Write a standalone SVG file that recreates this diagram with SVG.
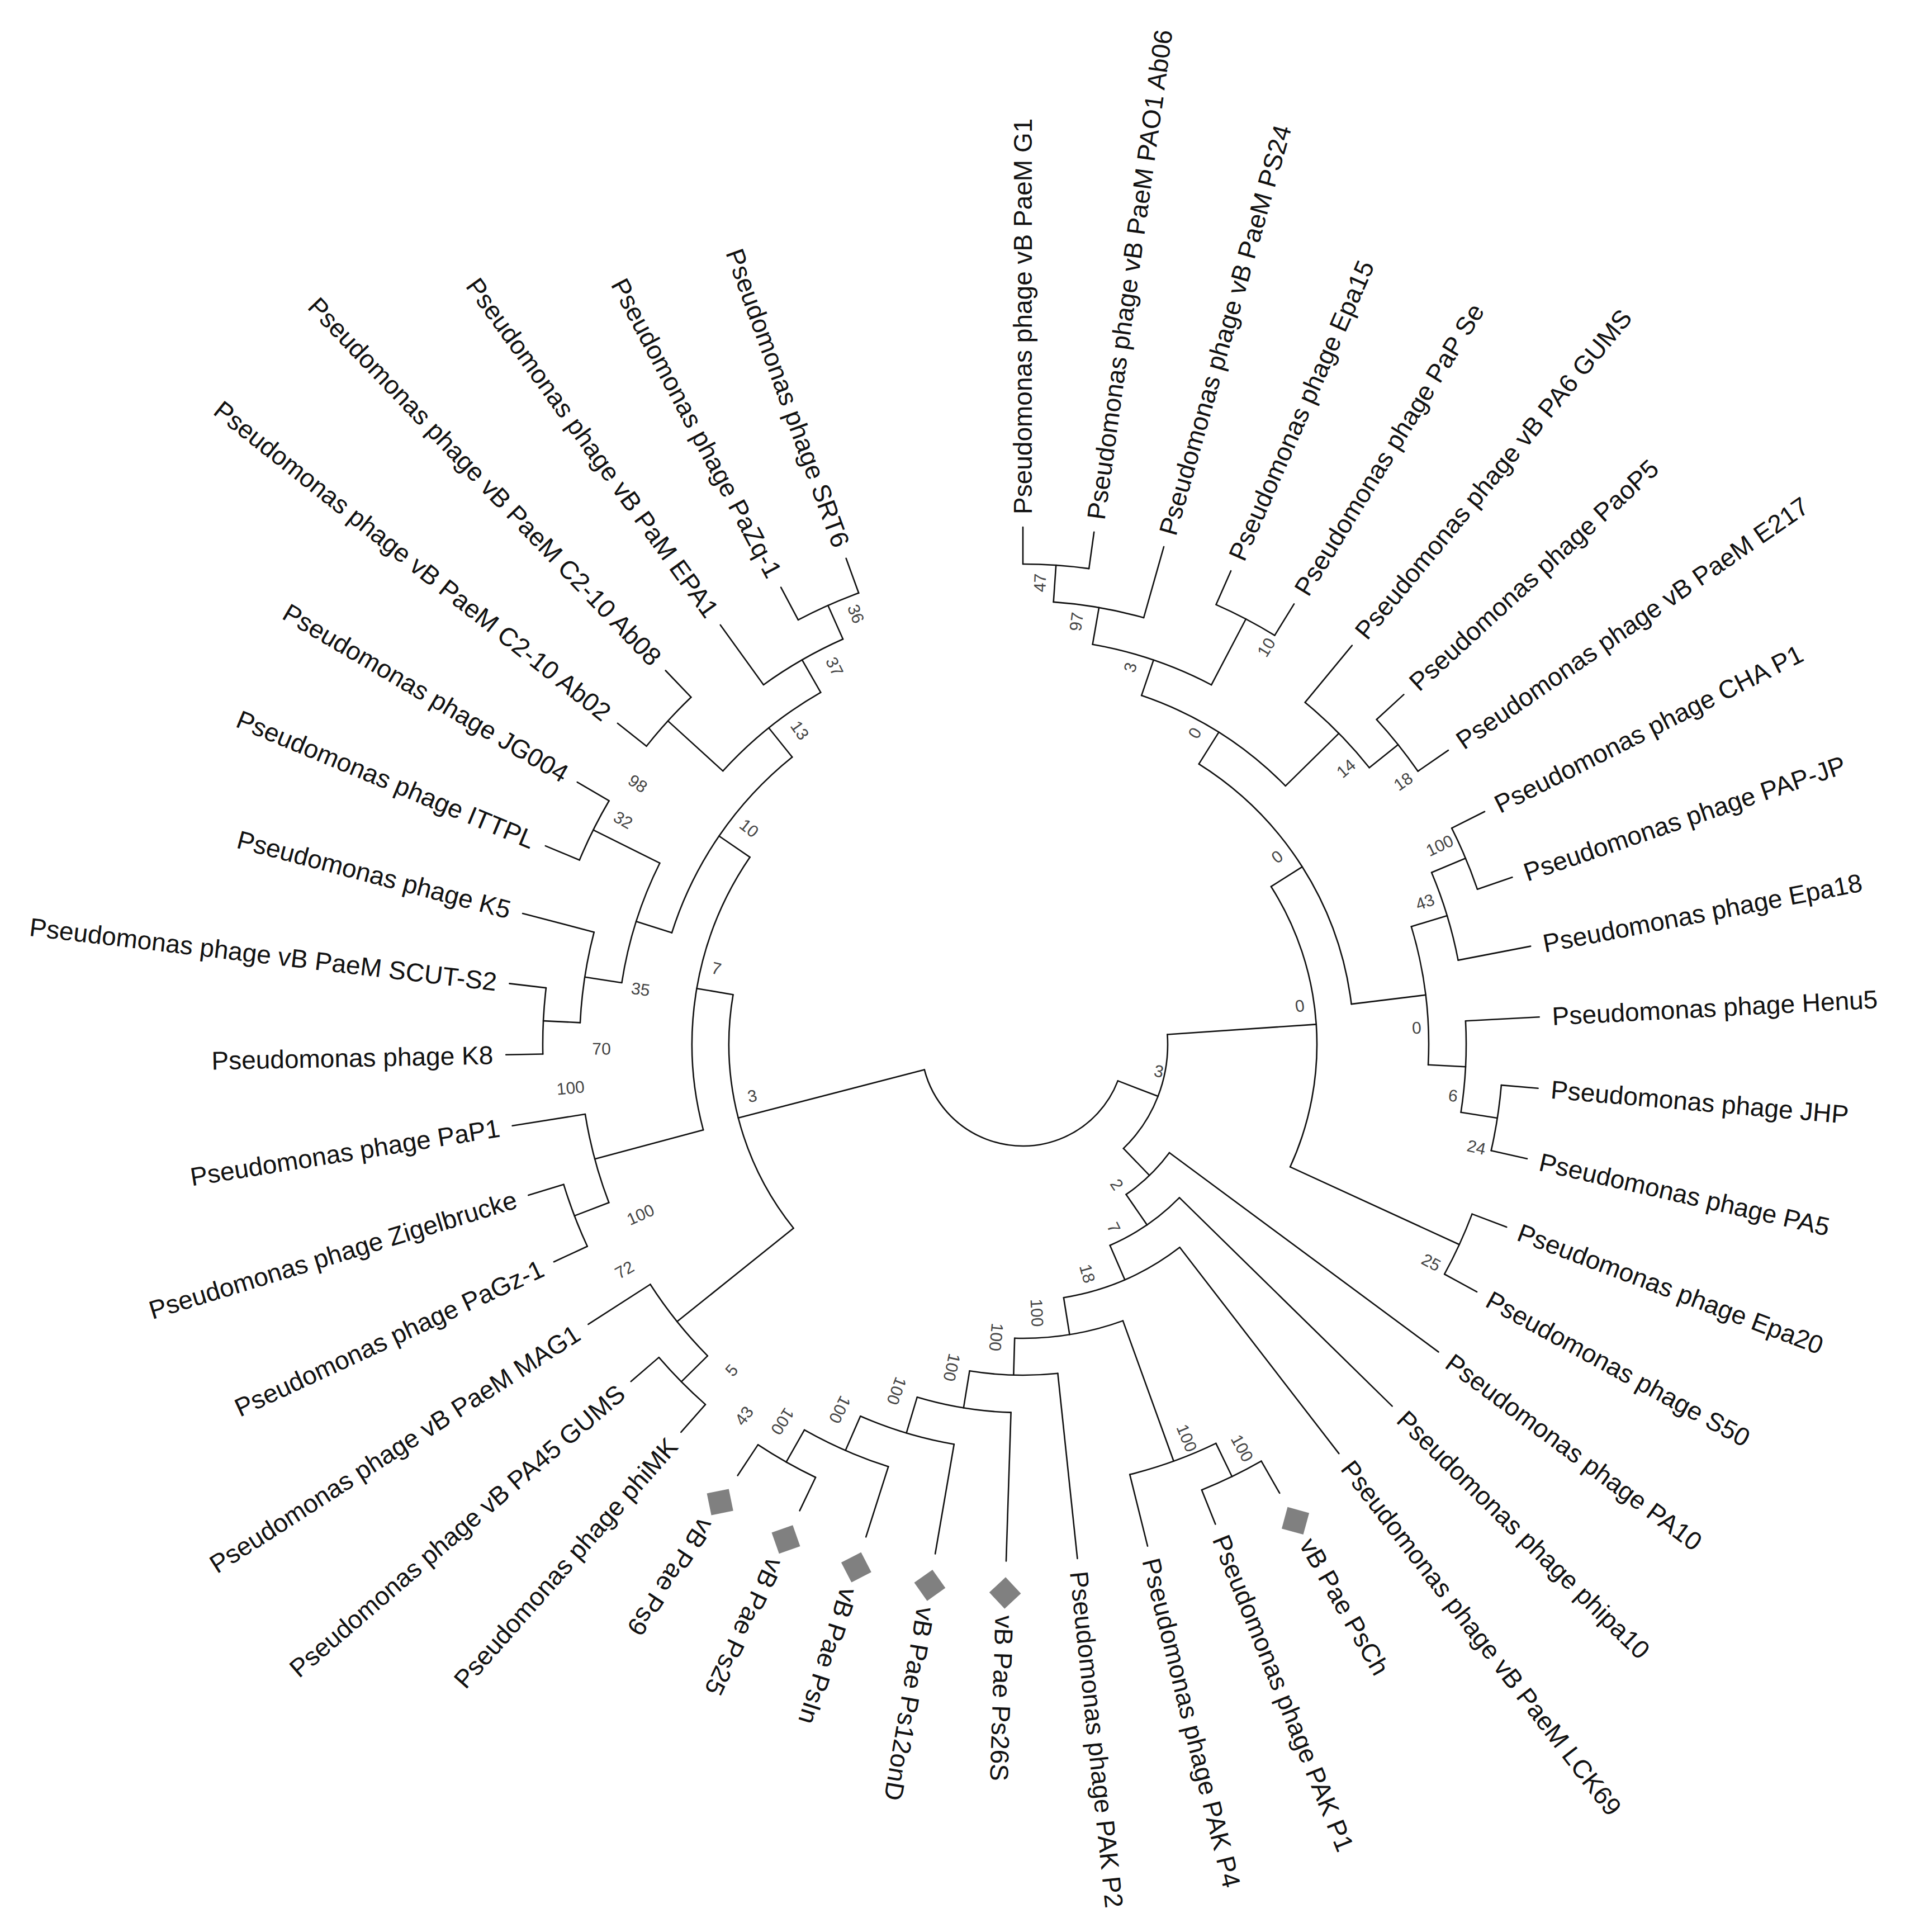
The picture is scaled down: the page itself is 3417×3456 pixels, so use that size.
<svg xmlns="http://www.w3.org/2000/svg" width="3417" height="3456" viewBox="0 0 3417 3456">
<style>
.b path,.b circle{fill:none;stroke:#111;stroke-width:2.6;stroke-linecap:round}
.t{font-family:"Liberation Sans",Arial,sans-serif;font-size:46px;fill:#111;dominant-baseline:central}
.e{text-anchor:end}
.s{font-family:"Liberation Sans",Arial,sans-serif;font-size:30px;fill:#444;dominant-baseline:central;text-anchor:middle}
.d{fill:#808080}
</style>
<defs><rect id="dm" x="-20" y="-20" width="40" height="40" transform="rotate(45)"/></defs>
<rect width="3417" height="3456" fill="#fff"/>
<g transform="translate(1830 1868)">
<g id="connectors" class="b">
<circle r="182" transform="rotate(21.061)" stroke-dasharray="458.8 9999"/>
<circle r="526" transform="rotate(141.279)" stroke-dasharray="444.6 9999"/>
<circle r="592" transform="rotate(165)" stroke-dasharray="510.6 9999"/>
<circle r="659" transform="rotate(197.616)" stroke-dasharray="386.5 9999"/>
<circle r="726" transform="rotate(222.326)" stroke-dasharray="225.4 9999"/>
<circle r="793" transform="rotate(234.186)" stroke-dasharray="164.2 9999"/>
<circle r="859" transform="rotate(242.093)" stroke-dasharray="118.5 9999"/>
<circle r="859" transform="rotate(218.372)" stroke-dasharray="118.5 9999"/>
<circle r="726" transform="rotate(188.721)" stroke-dasharray="225.4 9999"/>
<circle r="859" transform="rotate(202.558)" stroke-dasharray="118.5 9999"/>
<circle r="793" transform="rotate(182.791)" stroke-dasharray="164.2 9999"/>
<circle r="859" transform="rotate(178.837)" stroke-dasharray="118.5 9999"/>
<circle r="793" transform="rotate(159.07)" stroke-dasharray="164.2 9999"/>
<circle r="859" transform="rotate(155.116)" stroke-dasharray="118.5 9999"/>
<circle r="793" transform="rotate(135.349)" stroke-dasharray="164.2 9999"/>
<circle r="859" transform="rotate(131.395)" stroke-dasharray="118.5 9999"/>
<circle r="259" transform="rotate(-3.888)" stroke-dasharray="225.6 9999"/>
<circle r="526" transform="rotate(-32.427)" stroke-dasharray="524 9999"/>
<circle r="592" transform="rotate(-57.878)" stroke-dasharray="525.9 9999"/>
<circle r="659" transform="rotate(-71.221)" stroke-dasharray="306.9 9999"/>
<circle r="726" transform="rotate(-80.116)" stroke-dasharray="225.4 9999"/>
<circle r="793" transform="rotate(-86.047)" stroke-dasharray="164.2 9999"/>
<circle r="859" transform="rotate(-90)" stroke-dasharray="118.5 9999"/>
<circle r="859" transform="rotate(-66.279)" stroke-dasharray="118.5 9999"/>
<circle r="793" transform="rotate(-50.465)" stroke-dasharray="164.2 9999"/>
<circle r="859" transform="rotate(-42.558)" stroke-dasharray="118.5 9999"/>
<circle r="726" transform="rotate(-16.86)" stroke-dasharray="250.5 9999"/>
<circle r="793" transform="rotate(-22.791)" stroke-dasharray="164.2 9999"/>
<circle r="859" transform="rotate(-26.744)" stroke-dasharray="118.5 9999"/>
<circle r="793" transform="rotate(-3.023)" stroke-dasharray="164.2 9999"/>
<circle r="859" transform="rotate(4.884)" stroke-dasharray="118.5 9999"/>
<circle r="859" transform="rotate(20.698)" stroke-dasharray="118.5 9999"/>
<circle r="326" transform="rotate(36.512)" stroke-dasharray="108.1 9999"/>
<circle r="392" transform="rotate(44.419)" stroke-dasharray="151.7 9999"/>
<circle r="459" transform="rotate(52.326)" stroke-dasharray="228.6 9999"/>
<circle r="526" transform="rotate(70.116)" stroke-dasharray="197.4 9999"/>
<circle r="793" transform="rotate(64.186)" stroke-dasharray="164.2 9999"/>
<circle r="859" transform="rotate(60.233)" stroke-dasharray="118.5 9999"/>
<circle r="592" transform="rotate(83.953)" stroke-dasharray="158.3 9999"/>
<circle r="659" transform="rotate(91.86)" stroke-dasharray="170.5 9999"/>
<circle r="726" transform="rotate(99.767)" stroke-dasharray="175.3 9999"/>
<circle r="793" transform="rotate(107.674)" stroke-dasharray="164.2 9999"/>
<circle r="859" transform="rotate(115.581)" stroke-dasharray="118.5 9999"/>
<path transform="rotate(165.494)" d="M182 0H526"/>
<path transform="rotate(189.709)" d="M526 0H592"/>
<path transform="rotate(141.279)" d="M526 0H793"/>
<path transform="rotate(214.419)" d="M592 0H659"/>
<path transform="rotate(165)" d="M592 0H793"/>
<path transform="rotate(231.221)" d="M659 0H726"/>
<path transform="rotate(197.616)" d="M659 0H726"/>
<path transform="rotate(240.116)" d="M726 0H793"/>
<path transform="rotate(222.326)" d="M726 0H859"/>
<path transform="rotate(246.047)" d="M793 0H859"/>
<path transform="rotate(234.186)" d="M793 0H925"/>
<path transform="rotate(250)" d="M859 0H925"/>
<path transform="rotate(242.093)" d="M859 0H925"/>
<path transform="rotate(226.279)" d="M859 0H925"/>
<path transform="rotate(218.372)" d="M859 0H925"/>
<path transform="rotate(206.512)" d="M726 0H859"/>
<path transform="rotate(188.721)" d="M726 0H793"/>
<path transform="rotate(210.465)" d="M859 0H925"/>
<path transform="rotate(202.558)" d="M859 0H925"/>
<path transform="rotate(194.651)" d="M793 0H925"/>
<path transform="rotate(182.791)" d="M793 0H859"/>
<path transform="rotate(186.744)" d="M859 0H925"/>
<path transform="rotate(178.837)" d="M859 0H925"/>
<path transform="rotate(170.93)" d="M793 0H925"/>
<path transform="rotate(159.07)" d="M793 0H859"/>
<path transform="rotate(163.023)" d="M859 0H925"/>
<path transform="rotate(155.116)" d="M859 0H925"/>
<path transform="rotate(147.209)" d="M793 0H925"/>
<path transform="rotate(135.349)" d="M793 0H859"/>
<path transform="rotate(139.302)" d="M859 0H925"/>
<path transform="rotate(131.395)" d="M859 0H925"/>
<path transform="rotate(21.061)" d="M182 0H259"/>
<path transform="rotate(-3.888)" d="M259 0H526"/>
<path transform="rotate(46.01)" d="M259 0H326"/>
<path transform="rotate(-32.427)" d="M526 0H592"/>
<path transform="rotate(24.651)" d="M526 0H859"/>
<path transform="rotate(20.698)" d="M859 0H925"/>
<path transform="rotate(28.605)" d="M859 0H925"/>
<path transform="rotate(-57.878)" d="M592 0H659"/>
<path transform="rotate(-6.977)" d="M592 0H726"/>
<path transform="rotate(-71.221)" d="M659 0H726"/>
<path transform="rotate(-44.535)" d="M659 0H793"/>
<path transform="rotate(-80.116)" d="M726 0H793"/>
<path transform="rotate(-62.326)" d="M726 0H859"/>
<path transform="rotate(-86.047)" d="M793 0H859"/>
<path transform="rotate(-74.186)" d="M793 0H925"/>
<path transform="rotate(-90)" d="M859 0H925"/>
<path transform="rotate(-82.093)" d="M859 0H925"/>
<path transform="rotate(-66.279)" d="M859 0H925"/>
<path transform="rotate(-58.372)" d="M859 0H925"/>
<path transform="rotate(-50.465)" d="M793 0H925"/>
<path transform="rotate(-38.605)" d="M793 0H859"/>
<path transform="rotate(-42.558)" d="M859 0H925"/>
<path transform="rotate(-34.651)" d="M859 0H925"/>
<path transform="rotate(-16.86)" d="M726 0H793"/>
<path transform="rotate(2.907)" d="M726 0H793"/>
<path transform="rotate(-22.791)" d="M793 0H859"/>
<path transform="rotate(-10.93)" d="M793 0H925"/>
<path transform="rotate(-26.744)" d="M859 0H925"/>
<path transform="rotate(-18.837)" d="M859 0H925"/>
<path transform="rotate(-3.023)" d="M793 0H925"/>
<path transform="rotate(8.838)" d="M793 0H859"/>
<path transform="rotate(4.884)" d="M859 0H925"/>
<path transform="rotate(12.791)" d="M859 0H925"/>
<path transform="rotate(36.512)" d="M326 0H925"/>
<path transform="rotate(55.508)" d="M326 0H392"/>
<path transform="rotate(44.419)" d="M392 0H925"/>
<path transform="rotate(66.596)" d="M392 0H459"/>
<path transform="rotate(52.326)" d="M459 0H925"/>
<path transform="rotate(80.865)" d="M459 0H526"/>
<path transform="rotate(70.116)" d="M526 0H793"/>
<path transform="rotate(91.613)" d="M526 0H592"/>
<path transform="rotate(64.186)" d="M793 0H859"/>
<path transform="rotate(60.233)" d="M859 0H925"/>
<path transform="rotate(68.14)" d="M859 0H925"/>
<path transform="rotate(76.047)" d="M793 0H925"/>
<path transform="rotate(83.953)" d="M592 0H925"/>
<path transform="rotate(99.273)" d="M592 0H659"/>
<path transform="rotate(91.86)" d="M659 0H925"/>
<path transform="rotate(106.686)" d="M659 0H726"/>
<path transform="rotate(99.767)" d="M726 0H925"/>
<path transform="rotate(113.605)" d="M726 0H793"/>
<path transform="rotate(107.674)" d="M793 0H925"/>
<path transform="rotate(119.535)" d="M793 0H859"/>
<path transform="rotate(115.581)" d="M859 0H925"/>
<path transform="rotate(123.488)" d="M859 0H925"/>
</g>
<g id="taxa">
<g id="t01"><text class="t e" transform="rotate(70)" x="-948">Pseudomonas phage SRT6</text></g>
<g id="t02"><text class="t e" transform="rotate(62.093)" x="-948">Pseudomonas phage PaZq-1</text></g>
<g id="t03"><text class="t e" transform="rotate(54.186)" x="-948">Pseudomonas phage vB PaM EPA1</text></g>
<g id="t04"><text class="t e" transform="rotate(46.279)" x="-948">Pseudomonas phage vB PaeM C2-10 Ab08</text></g>
<g id="t05"><text class="t e" transform="rotate(38.372)" x="-948">Pseudomonas phage vB PaeM C2-10 Ab02</text></g>
<g id="t06"><text class="t e" transform="rotate(30.465)" x="-948">Pseudomonas phage JG004</text></g>
<g id="t07"><text class="t e" transform="rotate(22.558)" x="-948">Pseudomonas phage ITTPL</text></g>
<g id="t08"><text class="t e" transform="rotate(14.651)" x="-948">Pseudomonas phage K5</text></g>
<g id="t09"><text class="t e" transform="rotate(6.744)" x="-948">Pseudomonas phage vB PaeM SCUT-S2</text></g>
<g id="t10"><text class="t e" transform="rotate(-1.163)" x="-948">Pseudomonas phage K8</text></g>
<g id="t11"><text class="t e" transform="rotate(-9.07)" x="-948">Pseudomonas phage PaP1</text></g>
<g id="t12"><text class="t e" transform="rotate(-16.977)" x="-948">Pseudomonas phage Zigelbrucke</text></g>
<g id="t13"><text class="t e" transform="rotate(-24.884)" x="-948">Pseudomonas phage PaGz-1</text></g>
<g id="t14"><text class="t e" transform="rotate(-32.791)" x="-948">Pseudomonas phage vB PaeM MAG1</text></g>
<g id="t15"><text class="t e" transform="rotate(-40.698)" x="-948">Pseudomonas phage vB PA45 GUMS</text></g>
<g id="t16"><text class="t e" transform="rotate(-48.605)" x="-948">Pseudomonas phage phiMK</text></g>
<g id="t17"><use href="#dm" class="d" transform="rotate(123.488) translate(982 0)"/><text class="t" transform="rotate(123.488)" x="1022">vB Pae Ps9</text></g>
<g id="t18"><use href="#dm" class="d" transform="rotate(115.581) translate(982 0)"/><text class="t" transform="rotate(115.581)" x="1022">vB Pae Ps25</text></g>
<g id="t19"><use href="#dm" class="d" transform="rotate(107.674) translate(982 0)"/><text class="t" transform="rotate(107.674)" x="1022">vB Pae PsIn</text></g>
<g id="t20"><use href="#dm" class="d" transform="rotate(99.767) translate(982 0)"/><text class="t" transform="rotate(99.767)" x="1022">vB Pae Ps12onD</text></g>
<g id="t21"><use href="#dm" class="d" transform="rotate(91.86) translate(982 0)"/><text class="t" transform="rotate(91.86)" x="1022">vB Pae Ps26S</text></g>
<g id="t22"><text class="t" transform="rotate(83.953)" x="948">Pseudomonas phage PAK P2</text></g>
<g id="t23"><text class="t" transform="rotate(76.047)" x="948">Pseudomonas phage PAK P4</text></g>
<g id="t24"><text class="t" transform="rotate(68.14)" x="948">Pseudomonas phage PAK P1</text></g>
<g id="t25"><use href="#dm" class="d" transform="rotate(60.233) translate(982 0)"/><text class="t" transform="rotate(60.233)" x="1022">vB Pae PsCh</text></g>
<g id="t26"><text class="t" transform="rotate(52.326)" x="948">Pseudomonas phage vB PaeM LCK69</text></g>
<g id="t27"><text class="t" transform="rotate(44.419)" x="948">Pseudomonas phage phipa10</text></g>
<g id="t28"><text class="t" transform="rotate(36.512)" x="948">Pseudomonas phage PA10</text></g>
<g id="t29"><text class="t" transform="rotate(28.605)" x="948">Pseudomonas phage S50</text></g>
<g id="t30"><text class="t" transform="rotate(20.698)" x="948">Pseudomonas phage Epa20</text></g>
<g id="t31"><text class="t" transform="rotate(12.791)" x="948">Pseudomonas phage PA5</text></g>
<g id="t32"><text class="t" transform="rotate(4.884)" x="948">Pseudomonas phage JHP</text></g>
<g id="t33"><text class="t" transform="rotate(-3.023)" x="948">Pseudomonas phage Henu5</text></g>
<g id="t34"><text class="t" transform="rotate(-10.93)" x="948">Pseudomonas phage Epa18</text></g>
<g id="t35"><text class="t" transform="rotate(-18.837)" x="948">Pseudomonas phage PAP-JP</text></g>
<g id="t36"><text class="t" transform="rotate(-26.744)" x="948">Pseudomonas phage CHA P1</text></g>
<g id="t37"><text class="t" transform="rotate(-34.651)" x="948">Pseudomonas phage vB PaeM E217</text></g>
<g id="t38"><text class="t" transform="rotate(-42.558)" x="948">Pseudomonas phage PaoP5</text></g>
<g id="t39"><text class="t" transform="rotate(-50.465)" x="948">Pseudomonas phage vB PA6 GUMS</text></g>
<g id="t40"><text class="t" transform="rotate(-58.372)" x="948">Pseudomonas phage PaP Se</text></g>
<g id="t41"><text class="t" transform="rotate(-66.279)" x="948">Pseudomonas phage Epa15</text></g>
<g id="t42"><text class="t" transform="rotate(-74.186)" x="948">Pseudomonas phage vB PaeM PS24</text></g>
<g id="t43"><text class="t" transform="rotate(-82.093)" x="948">Pseudomonas phage vB PaeM PAO1 Ab06</text></g>
<g id="t44"><text class="t" transform="rotate(-90)" x="948">Pseudomonas phage vB PaeM G1</text></g>
</g>
<g id="bootstrap" class="s">
<text transform="rotate(68.8) translate(-826 0)">36</text>
<text transform="rotate(63.5) translate(-755 0)">37</text>
<text transform="rotate(54.6) translate(-689 0)">13</text>
<text transform="rotate(38.3) translate(-624 0)">10</text>
<text transform="rotate(34.1) translate(-832 0)">98</text>
<text transform="rotate(29.3) translate(-820 0)">32</text>
<text transform="rotate(8.2) translate(-691 0)">35</text>
<text transform="rotate(-0.6) translate(-754 0)">70</text>
<text transform="rotate(13.9) translate(-565 0)">7</text>
<text transform="rotate(-10.8) translate(-493 0)">3</text>
<text transform="rotate(-5.5) translate(-813 0)">100</text>
<text transform="rotate(-24) translate(-749 0)">100</text>
<text transform="rotate(-29.5) translate(-819 0)">72</text>
<text transform="rotate(-48.2) translate(-782 0)">5</text>
<text transform="rotate(-53.1) translate(-831 0)">43</text>
<text transform="rotate(-87.9) translate(826 0)">47</text>
<text transform="rotate(-82.8) translate(762 0)">97</text>
<text transform="rotate(-74.1) translate(701 0)">3</text>
<text transform="rotate(-58.5) translate(833 0)">10</text>
<text transform="rotate(-61.1) translate(636 0)">0</text>
<text transform="rotate(-40.5) translate(760 0)">14</text>
<text transform="rotate(-34.65) translate(827 0)">18</text>
<text transform="rotate(-36.4) translate(565 0)">0</text>
<text transform="rotate(-7.9) translate(500 0)">0</text>
<text transform="rotate(-25.5) translate(826 0)">100</text>
<text transform="rotate(-19.5) translate(763 0)">43</text>
<text transform="rotate(-2.4) translate(705 0)">0</text>
<text transform="rotate(6.8) translate(775 0)">6</text>
<text transform="rotate(12.8) translate(832 0)">24</text>
<text transform="rotate(28.1) translate(828 0)">25</text>
<text transform="rotate(11.2) translate(248 0)">3</text>
<text transform="rotate(56.2) translate(302 0)">2</text>
<text transform="rotate(63.6) translate(366 0)">7</text>
<text transform="rotate(74.3) translate(426 0)">18</text>
<text transform="rotate(87) translate(481 0)">100</text>
<text transform="rotate(95.2) translate(526 0)">100</text>
<text transform="rotate(102.4) translate(592 0)">100</text>
<text transform="rotate(110) translate(660 0)">100</text>
<text transform="rotate(116.6) translate(731 0)">100</text>
<text transform="rotate(122.5) translate(800 0)">100</text>
<text transform="rotate(67.4) translate(763 0)">100</text>
<text transform="rotate(61.5) translate(822 0)">100</text>
</g>
</g>
</svg>
